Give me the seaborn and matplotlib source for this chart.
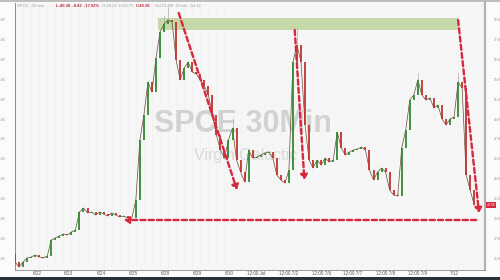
import numpy as np
import pandas as pd
import seaborn as sns
import matplotlib
matplotlib.use("Agg")
import matplotlib.pyplot as plt
from matplotlib.patches import Rectangle, FancyArrowPatch

# ---------------- data ----------------
BARS_PER_DAY = 8
close = [34.70, 34.20, 34.70, 35.10, 35.20, 35.40, 35.20, 35.10, 35.30, 36.90,
         37.10, 37.30, 37.50, 37.40, 37.70, 37.90, 39.70, 40.10, 39.60, 39.70,
         39.40, 39.70, 39.50, 39.30, 39.60, 39.40, 39.20, 39.30, 39.10, 39.10,
         40.90, 46.90, 49.40, 52.70, 51.70, 55.10, 57.70, 58.50, 58.90, 58.70,
         54.90, 52.90, 54.10, 54.70, 53.70, 53.50, 52.90, 52.30, 51.40, 49.40,
         47.40, 45.90, 45.10, 46.90, 48.10, 44.90, 43.70, 42.70, 45.90, 45.10,
         45.20, 45.40, 45.60, 45.70, 45.10, 43.40, 42.90, 42.60, 43.90, 54.70,
         56.40, 54.70, 48.40, 44.90, 44.10, 44.90, 44.40, 45.10, 44.70, 44.90,
         47.70, 46.10, 45.40, 45.70, 45.90, 46.00, 46.20, 45.90, 43.90, 42.90,
         43.70, 44.10, 43.70, 41.90, 41.40, 41.30, 46.10, 47.90, 50.90, 51.40,
         52.90, 51.40, 50.90, 51.10, 50.10, 50.40, 49.00, 48.40, 49.00, 49.20,
         52.70, 52.10, 43.40, 41.90, 40.38]
first_open = 35.50
wick_bars = [37, 38, 54, 70, 100, 110]
wick_highs = [59.40, 60.20, 49.10, 58.10, 53.60, 53.60]

x_tick_pos = [0.68, 1.66, 2.68, 3.66, 4.65, 5.66, 6.65, 7.48, 8.49, 9.51, 10.49, 11.51, 12.49, 13.63]
x_tick_labels = ["6/22", "6/23", "6/24", "6/25", "6/28", "6/29", "6/30", "12:00 Jul",
                 "12:00 7/2", "12:00 7/6", "12:00 7/7", "12:00 7/8", "12:00 7/9", "7/12"]
y_ticks = [35, 37, 39, 41, 43, 45, 47, 49, 51, 53, 55, 57, 59]

last_price = close[-1]
change = -8.82
pct = -17.92

# ---------------- frame ----------------
df = pd.DataFrame({"t": np.arange(len(close)) / BARS_PER_DAY, "close": close})
df["open"] = [first_open] + close[:-1]
df["up"] = df["close"] >= df["open"]

sns.set_theme(style="white")
plt.rcParams["font.family"] = ["Liberation Sans", "DejaVu Sans"]

fig = plt.figure(figsize=(5, 2.8), dpi=100)
fig.patch.set_facecolor("#fbfbfb")
L, R = 15, 485
ax = fig.add_axes([L / 500, 10 / 280, (R - L) / 500, 267 / 280])
ax.set_facecolor("#f6f6f6")
ax.set_xlim(0, 474 / 32.5)
ax.set_ylim(33.9, 60.6)

# faint vertical grid
for xv in np.arange(0, 15, 0.25):
    ax.axvline(xv, color="#f0f0f0", lw=0.4, zorder=0)

# watermark
ax.text(0.485, 0.548, "SPCE 30Min", transform=ax.transAxes, ha="center", va="center",
        fontsize=22, fontweight="bold", color="#d2d2d2", zorder=1)
ax.text(0.49, 0.43, "Virgin Galactic", transform=ax.transAxes, ha="center", va="center",
        fontsize=11.5, color="#d9d9d9", zorder=1)

# green resistance zone
ax.add_patch(Rectangle((4.43, 57.9), 13.75 - 4.43, 1.2, facecolor="#bcd49a",
                       edgecolor="none", alpha=0.85, zorder=2))

# candles
sns.lineplot(data=df, x="t", y="close", ax=ax, color="#6b4a3a", lw=0.5, zorder=3)
for b, h in zip(wick_bars, wick_highs):
    ax.vlines(df.t[b], df.close[b], h, color="#b8b8b8", lw=0.6, zorder=2.5)
up = df[df.up]
dn = df[~df.up]
ax.vlines(up.t, up.open, up.close, color="#2f8a2f", lw=1.3, zorder=4)
ax.vlines(dn.t, dn.open, dn.close, color="#c0342c", lw=1.3, zorder=4)

# dashed red arrows
red = "#d6283e"
def arrow(p0, p1, head="-|>"):
    a = FancyArrowPatch(p0, p1, arrowstyle=head + ",head_length=3,head_width=2",
                        color=red, lw=1.7, linestyle=(0, (2.2, 1.3)),
                        mutation_scale=1, zorder=6, shrinkA=0, shrinkB=0)
    ax.add_patch(a)
arrow((5.08, 59.6), (6.89, 41.9))
arrow((8.68, 57.9), (8.98, 42.9))
arrow((13.75, 58.9), (14.40, 39.6))
arrow((14.31, 38.9), (3.38, 38.9))

# axes styling
ax.set_xticks(x_tick_pos)
ax.set_xticklabels(x_tick_labels)
ax.set_yticks(y_ticks)
ax.set_yticklabels([f"{v:.2f}" for v in y_ticks])
ax.tick_params(axis="y", labelleft=True, labelright=True, left=False, right=False,
               labelsize=2.4, pad=0.6, colors="#8a8a8a")
ax.tick_params(axis="x", labelsize=3.3, pad=1, length=0, colors="#555555")
ax.set_xlabel("")
ax.set_ylabel("")
ax.spines["top"].set_visible(False)
ax.spines["left"].set_color("#8c8c8c")
ax.spines["left"].set_linewidth(0.7)
ax.spines["right"].set_color("#b0b0b0")
ax.spines["right"].set_linewidth(1.5)
ax.spines["bottom"].set_color("#9a9a9a")
ax.spines["bottom"].set_linewidth(0.7)

# last price tag
ax.text(1.004, (last_price - 33.9) / (60.6 - 33.9), f"{last_price:.2f}", transform=ax.transAxes,
        ha="left", va="center", fontsize=2.4, color="white",
        bbox=dict(boxstyle="square,pad=0.3", fc="#d6283e", ec="none"), clip_on=False)

# header
hy = 0.978
fig.text(0.034, hy, "SPCE - 30 min", fontsize=3, color="#a0a0a0", va="center")
fig.text(0.112, hy, f"L:{last_price:.2f}  {change:.2f}  {pct:.2f}%", fontsize=3,
         color="#c0283a", va="center", fontweight="bold")
fig.text(0.205, hy, "O:49.23  H:49.75", fontsize=3, color="#a0a0a0", va="center")
fig.text(0.272, hy, "C:40.38", fontsize=3, color="#c0283a", va="center", fontweight="bold")
fig.text(0.310, hy, "Vol 21.4M  30 min  Jul 12", fontsize=3, color="#a0a0a0", va="center")

# top line and bottom bar
fig.patches.append(Rectangle((0, 0.993), 1, 0.007, transform=fig.transFigure,
                             fc="#bdbdbd", ec="none"))
fig.patches.append(Rectangle((0, 0), 1, 3 / 280, transform=fig.transFigure,
                             fc="#2b2f36", ec="none"))

fig.savefig("out.png", dpi=100)
